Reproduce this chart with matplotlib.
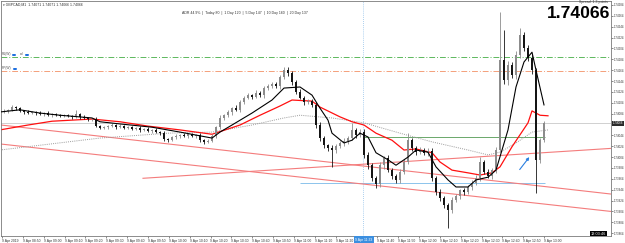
import matplotlib
matplotlib.use("Agg")
import matplotlib.pyplot as plt
from matplotlib.patches import Rectangle
import numpy as np

W, H = 625, 243
plt.rcParams['font.family'] = ['Liberation Sans', 'DejaVu Sans']

# prices kept in points above 1.70000 (1 point = 0.00001), one M1 bar per entry
close_pts = [4089, 4091, 4096, 4094, 4089, 4087, 4085, 4087, 4085, 4083,
             4085, 4081, 4083, 4081, 4080, 4081, 4080, 4078, 4083, 4078,
             4076, 4074, 4074, 4061, 4058, 4059, 4061, 4063, 4059, 4061,
             4058, 4059, 4056, 4058, 4054, 4056, 4052, 4054, 4050, 4048,
             4037, 4035, 4041, 4043, 4045, 4043, 4046, 4043, 4045, 4035,
             4032, 4034, 4043, 4059, 4076, 4081, 4087, 4094, 4091, 4105,
             4113, 4118, 4115, 4122, 4118, 4131, 4135, 4138, 4135, 4151,
             4164, 4159, 4142, 4124, 4113, 4105, 4107, 4100, 4063, 4039,
             4026, 4021, 4017, 4024, 4030, 4034, 4039, 4054, 4045, 4050,
             4008, 3989, 3965, 3954, 3989, 4002, 3980, 3969, 3962, 3977,
             3995, 4035, 4021, 4013, 4017, 4012, 4015, 3965, 3940, 3929,
             3916, 3907, 3925, 3932, 3943, 3940, 3949, 3956, 3965, 3995,
             3977, 3969, 3980, 4017, 4183, 4146, 4173, 4155, 4192, 4229,
             4205, 4186, 4164, 3999, 4035, 4066]
first_open = 4087
upper_wick = [3, 2, 4, 2, 3, 2, 3, 2, 2, 3,
              2, 3, 2, 2, 3, 2, 3, 2, 8, 2,
              3, 2, 2, 3, 2, 3, 2, 4, 2, 3,
              2, 3, 2, 2, 3, 2, 3, 2, 3, 2,
              4, 3, 2, 3, 2, 4, 2, 3, 2, 3,
              2, 3, 4, 3, 5, 3, 4, 3, 5, 4,
              3, 4, 3, 5, 3, 4, 3, 4, 5, 4,
              6, 5, 4, 3, 5, 4, 3, 4, 6, 5,
              4, 3, 5, 4, 3, 5, 4, 13, 4, 5,
              6, 5, 4, 5, 6, 4, 5, 4, 3, 5,
              6, 13, 5, 4, 5, 4, 6, 5, 4, 5,
              4, 3, 5, 4, 3, 5, 4, 5, 6, 9,
              4, 5, 4, 6, 88, 55, 8, 6, 7, 12,
              6, 5, 7, 4, 5, 4]
lower_wick = [2, 3, 2, 3, 2, 3, 2, 2, 3, 2,
              3, 2, 3, 2, 2, 3, 2, 3, 2, 3,
              2, 3, 3, 2, 3, 2, 3, 2, 3, 2,
              3, 2, 3, 2, 3, 2, 2, 3, 2, 3,
              4, 3, 2, 3, 4, 2, 3, 2, 3, 4,
              3, 2, 3, 4, 3, 4, 3, 5, 3, 4,
              4, 3, 5, 3, 4, 5, 3, 4, 3, 5,
              4, 5, 6, 4, 3, 5, 4, 3, 5, 6,
              5, 6, 31, 5, 4, 6, 5, 4, 5, 4,
              5, 6, 5, 7, 5, 6, 4, 5, 6, 5,
              5, 4, 6, 5, 4, 5, 6, 5, 6, 5,
              6, 33, 5, 4, 6, 5, 4, 5, 4, 5,
              5, 4, 6, 5, 4, 8, 10, 6, 7, 6,
              5, 6, 7, 61, 5, 4]

# moving averages (bar index, points)
black_idx = [-1, 4, 9, 14, 22, 24, 29, 37, 44, 52, 54, 57, 62, 67, 70, 74, 77, 79, 81, 82, 85,
             87, 89, 91, 93, 96, 98, 101, 103, 106, 108, 111, 113, 116, 118, 121, 123, 126,
             128, 130, 132, 133, 135]
black_pts = [4087, 4091, 4085, 4081, 4076, 4069, 4065, 4059, 4050, 4039, 4050, 4063, 4085, 4109,
             4131, 4133, 4118, 4094, 4072, 4048, 4030, 4035, 4048, 4041, 4012, 3999, 3989, 4004,
             4017, 4013, 3986, 3962, 3949, 3949, 3962, 3967, 3980, 4054, 4133, 4179, 4197, 4164,
             4100]
red_idx = [-1, 6, 12, 22, 29, 36, 44, 52, 59, 64, 69, 72, 77, 79, 84, 87, 90, 93, 97, 100, 103,
           107, 109, 112, 116, 119, 122, 124, 127, 131, 132, 134, 136]
red_pts = [4054, 4063, 4070, 4074, 4069, 4061, 4054, 4046, 4063, 4081, 4098, 4109, 4107, 4096,
           4078, 4069, 4063, 4048, 4035, 4017, 4019, 4012, 3995, 3980, 3975, 3971, 3975, 3986,
           4023, 4067, 4089, 4081, 4080]
grey_idx = [-1, 24, 41, 52, 62, 70, 74, 82, 90, 99, 107, 116, 121, 124, 128, 132, 136]
grey_pts = [4017, 4039, 4048, 4050, 4063, 4076, 4081, 4076, 4067, 4048, 4032, 4017, 4008, 4013,
            4030, 4050, 4054]

# trend lines (start idx, start pts, end idx, end pts)
trend_lines = [(-0.75, 4063, 151.75, 3936), (-0.75, 4028, 151.75, 3904), (34.75, 3965, 151.75, 4020)]
green_level, orange_level = 4188, 4162
green_box_level, blue_box_level = 4041, 3956
vline_idx = 89.75
price_ticks = [4284, 4264, 4244, 4224, 4204, 4184, 4164, 4144, 4124, 4104, 4084,
               4064, 4044, 4024, 4004, 3984, 3964, 3944, 3924, 3904, 3884, 3864]
time_labels = ['9 Apr 2019'] + ['9 Apr %02d:%02d' % divmod(8 * 60 + 40 + 10 * k, 60) for k in range(1, 27)]
bid = 4066


def p(v):
    return 1.7 + np.asarray(v) / 1e5


close = p(close_pts)
opens = p([first_open] + close_pts[:-1])
high = np.maximum(opens, close) + np.array(upper_wick) / 1e5
low = np.minimum(opens, close) - np.array(lower_wick) / 1e5

fig = plt.figure(figsize=(W / 100, H / 100), dpi=100, facecolor='white')
ax = fig.add_axes([1 / W, 7 / H, 610 / W, 235 / H])
ax.set_xlim(-0.75, 151.75)
ax.set_ylim(p(3858.8), p(4291.2))

# levels and lines
ax.axhline(p(green_level), color='#5cb85c', lw=0.7, ls=(0, (6, 2, 1, 2)))
ax.axhline(p(orange_level), color='#f4a07a', lw=0.7, ls=(0, (6, 2, 1, 2)))
ax.axhline(p(bid), color='#d0d0d0', lw=0.7)
ax.axvline(vline_idx, color='#8fc0ea', lw=0.6, ls=(0, (1, 1.5)))
ax.hlines(p(green_box_level), vline_idx, 135.3, color='#6aa86a', lw=0.7)
ax.hlines(p(blue_box_level), 74, 135.3, color='#8cc4ec', lw=0.7)
for x0, y0, x1, y1 in trend_lines:
    ax.plot([x0, x1], [p(y0), p(y1)], color='#f47c7c', lw=0.8)

ax.plot(grey_idx, p(grey_pts), color='#9a9a9a', lw=0.7, ls=(0, (1, 1.2)))
ax.plot(red_idx, p(red_pts), color='#ff1010', lw=0.9)
ax.plot(black_idx, p(black_pts), color='black', lw=0.8, zorder=4)

# candles
for i in range(len(close)):
    col = '#8c8c8c' if close[i] >= opens[i] else '#151515'
    ax.vlines(i, low[i], high[i], color=col, lw=0.6, zorder=3)
    b0 = min(opens[i], close[i])
    bh = max(abs(close[i] - opens[i]), 0.000008)
    ax.add_patch(Rectangle((i - 0.28, b0), 0.56, bh, facecolor=col, edgecolor='none', zorder=3))

ax.annotate('', xy=(131.75, p(4008)), xytext=(128.5, p(3977)),
            arrowprops=dict(arrowstyle='-|>', color='#2a7fe0', lw=0.8, mutation_scale=4))

# axes look
for s in ax.spines.values():
    s.set_color('#7a7a7a')
    s.set_linewidth(0.6)
ax.yaxis.tick_right()
ax.set_yticks(p(price_ticks))
ax.set_yticklabels(['%.5f' % v if k != 11 else '' for k, v in enumerate(p(price_ticks))])
ax.tick_params(axis='y', length=1.2, width=0.4, pad=0.5, labelsize=2.1, colors='#333333')
tick_x = [(2 + 20.85 * k - 4) / 4 for k in range(27)]
ax.set_xticks(tick_x)
ax.set_xticklabels([t if k != 17 else '' for k, t in enumerate(time_labels)], ha='left')
ax.tick_params(axis='x', length=1.5, width=0.4, pad=0.5, labelsize=2.4, colors='#333333')

# current price box and highlighted time
ax.text(1.003, p(bid), '%.5f' % p(bid), transform=ax.get_yaxis_transform(), fontsize=2.1,
        color='white', va='center', ha='left',
        bbox=dict(facecolor='#2b2b2b', edgecolor='none', pad=0.4))
fig.text(364 / W, 1 - 239.5 / H, '9 Apr 11:33', fontsize=2.4, color='white', ha='center',
         va='center', bbox=dict(facecolor='#3b8fe0', edgecolor='none', pad=0.8))
fig.text(591 / W, 1 - 233.5 / H, '13:03:46', fontsize=2.8, color='white', ha='left', va='center',
         bbox=dict(facecolor='black', edgecolor='none', pad=0.5))

# texts
fig.text(3 / W, 1 - 4.5 / H, '\u25be GBPCAD,M1  1.74071 1.74071 1.74066 1.74066',
         fontsize=2.5, color='#333333', va='center')
fig.text(182 / W, 1 - 13 / H,
         'ADR 44.9%  |  Today 80  |  1 Day 120  |  5 Day 147  |  10 Day 160  |  20 Day 137',
         fontsize=2.5, color='#333333', va='center')
fig.text(610 / W, 1 - 18.5 / H, '1.74066', fontsize=12.6, weight='bold', ha='right',
         va='baseline', color='black')
fig.text(608 / W, 1 - 2.5 / H, 'Spread: 1.3 points', fontsize=2.5, ha='right', va='center',
         color='#333333')
fig.text(2 / W, 1 - 54 / H, 'R1(W)', fontsize=2.3, color='#555555', va='center')
fig.text(12 / W, 1 - 54 / H, '\u25a0\u25a0', fontsize=3, color='#1d6fe0', va='center')
fig.text(19.5 / W, 1 - 54 / H, 'ed', fontsize=2.3, color='#555555', va='center')
fig.text(25 / W, 1 - 54 / H, '\u25a0\u25a0', fontsize=3, color='#1d6fe0', va='center')
fig.text(2 / W, 1 - 68.5 / H, 'PP(W)', fontsize=2.3, color='#555555', va='center')
fig.text(12.5 / W, 1 - 68.5 / H, '\u25a0\u25a0', fontsize=3, color='#1d6fe0', va='center')

fig.savefig('out.png', dpi=100, facecolor='white')
